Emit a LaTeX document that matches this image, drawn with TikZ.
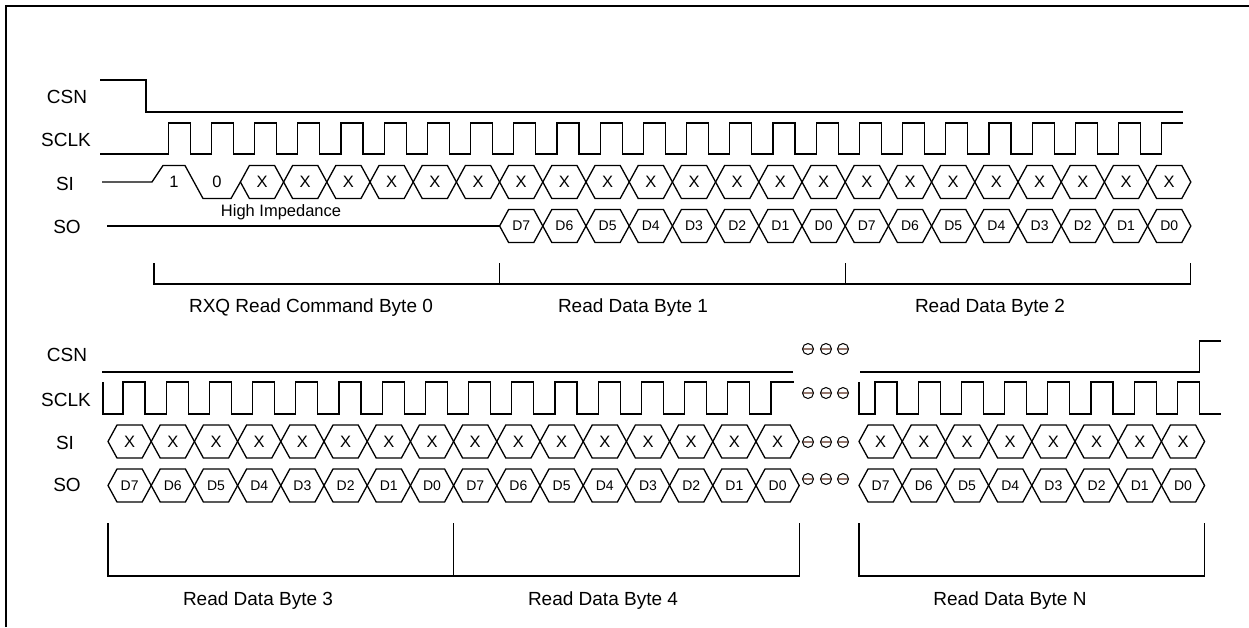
\documentclass[tikz,border=0pt]{standalone}
\usepackage{fontspec}
\setmainfont{Liberation Sans}
\definecolor{dotline}{RGB}{150,120,110}
\newcommand{\bitcell}[2]{\draw[sig] (#1,#2) -- ++(9,-16.5) -- ++(25.2,0) -- ++(9,16.5) -- ++(-9,16.5) -- ++(-25.2,0) -- cycle;}
\begin{document}
\begin{tikzpicture}[x=1pt,y=-1pt,sig/.style={line width=1.3pt},
  sname/.style={font=\fontsize{19}{22}\selectfont},
  xbit/.style={font=\fontsize{16.5}{18}\selectfont,inner sep=0pt},
  dbit/.style={font=\fontsize{14}{16}\selectfont,inner sep=0pt},
  gap/.style={draw,circle,line width=1pt,minimum size=11pt,inner sep=0pt,
    path picture={\draw[dotline,line width=1.2pt] (path picture bounding box.west) -- (path picture bounding box.east);}}]
\useasboundingbox (0,0) rectangle (1249,627);
\draw[line width=2.2pt] (6,627) -- (6,6) -- (1249,6);

% first part
\node[sname] (csnA) at (67,97) {CSN};
\node[sname] (sclkA) at (66,140) {SCLK};
\node[sname] (siA) at (65,184) {SI};
\node[sname] (soA) at (67,227) {SO};

\draw[sig] (100,80) -- (146,80) -- (146,112) -- (1183,112);
\draw[sig] (100,154) \foreach \k in {0,...,22} { -- ({168.2+43.2*\k},154) -- ++(0,-31) -- ++(22,0) -- ++(0,31) } -- (1161.8,154) -- (1161.8,123) -- (1183,123);

\draw[sig] (102,182) -- (152,182) -- (163,165.5) -- (185,165.5) -- (203,198.5) -- (231,198.5) -- (240.4,182);
\node[xbit] (siA0) at (174,182) {1};
\node[xbit] (siA1) at (217,182) {0};
\foreach \k in {2,...,23} {
  \bitcell{154+43.2*\k}{182}
  \node[xbit] (siA\k) at ({175.6+43.2*\k},182) {X};
}

\draw[sig] (107,226) -- (499.6,226);
\node[font=\fontsize{16.5}{18}\selectfont] (hiz) at (281,212) {High Impedance};
\foreach \k in {8,...,23} {
  \pgfmathtruncatemacro\d{7-mod(\k,8)}
  \bitcell{154+43.2*\k}{226}
  \node[dbit] (soA\k) at ({175.6+43.2*\k},226) {D\d};
}

\draw[sig] (154,263) -- (154,284) -- (1190.8,284) -- (1190.8,263);
\draw[sig] (499.6,263) -- (499.6,284);
\draw[sig] (845.2,263) -- (845.2,284);
\node[sname] (byte0) at (311,308) {RXQ Read Command Byte 0};
\node[sname] (byte1) at (633,308) {Read Data Byte 1};
\node[sname] (byte2) at (990,308) {Read Data Byte 2};

% second part
\node[sname] (csnB) at (67,355) {CSN};
\node[sname] (sclkB) at (66,400) {SCLK};
\node[sname] (siB) at (65,443) {SI};
\node[sname] (soB) at (67,485) {SO};

\draw[sig] (102,372) -- (793,372);
\draw[sig] (860,372) -- (1199.4,372) -- (1199.4,341) -- (1221,341);
\draw[sig] (103,382) -- (103,414) \foreach \k in {0,...,14} { -- ({123+43.2*\k},414) -- ++(0,-32) -- ++(22,0) -- ++(0,32) } -- (771,414) -- (771,382) -- (794,382);
\draw[sig] (859,382) -- (859,414) \foreach \k in {0,...,7} { -- ({875+43.2*\k},414) -- ++(0,-32) -- ++(22,0) -- ++(0,32) } -- (1221,414);

\foreach \k in {0,...,15} {
  \pgfmathtruncatemacro\d{7-mod(\k,8)}
  \bitcell{108+43.2*\k}{441.5}
  \node[xbit] (siB\k) at ({129.6+43.2*\k},441.5) {X};
  \bitcell{108+43.2*\k}{485.5}
  \node[dbit] (soB\k) at ({129.6+43.2*\k},485.5) {D\d};
}
\foreach \k in {0,...,7} {
  \pgfmathtruncatemacro\d{7-\k}
  \bitcell{859+43.2*\k}{441.5}
  \node[xbit] (siC\k) at ({880.6+43.2*\k},441.5) {X};
  \bitcell{859+43.2*\k}{485.5}
  \node[dbit] (soC\k) at ({880.6+43.2*\k},485.5) {D\d};
}

\foreach \y [count=\i] in {349,393,442,479} {
  \foreach \x [count=\j] in {808,826,843}
    \node[gap] (gap\i\j) at (\x,\y) {};
}

\draw[sig] (108,523) -- (108,576) -- (799.2,576) -- (799.2,523);
\draw[sig] (453.6,523) -- (453.6,576);
\draw[sig] (859,523) -- (859,576) -- (1204.6,576) -- (1204.6,523);
\node[sname] (byte3) at (258,601) {Read Data Byte 3};
\node[sname] (byte4) at (603,601) {Read Data Byte 4};
\node[sname] (byteN) at (1010,601) {Read Data Byte N};
\end{tikzpicture}
\end{document}
